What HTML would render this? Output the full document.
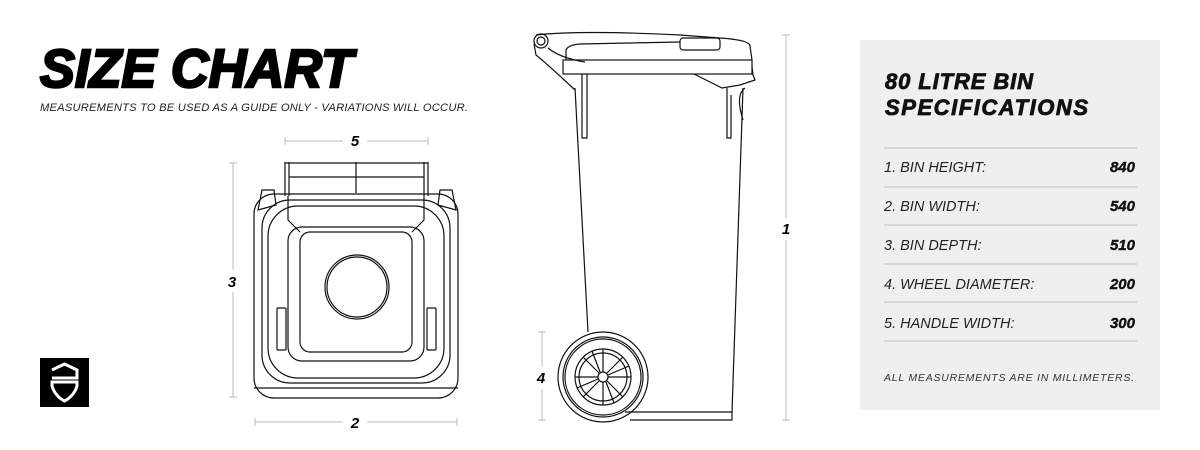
<!DOCTYPE html>
<html><head><meta charset="utf-8"><style>
html,body{margin:0;padding:0;background:#fff;}
svg{display:block;}
</style></head><body>
<svg width="1200" height="450" viewBox="0 0 1200 450" xmlns="http://www.w3.org/2000/svg" font-family="Liberation Sans, sans-serif">
<rect width="1200" height="450" fill="#fff"/>
<!-- Title -->
<text x="40" y="87" font-size="54" font-weight="900" font-style="italic" fill="#000" stroke="#000" stroke-width="2.5" textLength="313" lengthAdjust="spacingAndGlyphs">SIZE CHART</text>
<text x="40" y="111" font-size="11.2" font-style="italic" fill="#222" textLength="428">MEASUREMENTS TO BE USED AS A GUIDE ONLY - VARIATIONS WILL OCCUR.</text>
<!-- logo -->
<rect x="40" y="358" width="49" height="49" fill="#000"/>
<path d="M52 370 L64.5 364 L77 370 L77 378 L52 378 M52 382 L77 382 L77 386 Q74 396 64.5 401 Q55 396 52 386 Z" fill="none" stroke="#fff" stroke-width="3"/>

<g fill="none" stroke="#bbb" stroke-width="1">
<line x1="285" y1="141" x2="343" y2="141"/><line x1="367" y1="141" x2="428" y2="141"/>
<line x1="285" y1="137" x2="285" y2="145"/><line x1="428" y1="137" x2="428" y2="145"/>
<line x1="233" y1="163" x2="233" y2="270"/><line x1="233" y1="292" x2="233" y2="397"/>
<line x1="229" y1="163" x2="237" y2="163"/><line x1="229" y1="397" x2="237" y2="397"/>
<line x1="255" y1="422" x2="343" y2="422"/><line x1="367" y1="422" x2="457" y2="422"/>
<line x1="255" y1="418" x2="255" y2="426"/><line x1="457" y1="418" x2="457" y2="426"/>
<line x1="786" y1="35" x2="786" y2="218"/><line x1="786" y1="240" x2="786" y2="420"/>
<line x1="782" y1="35" x2="790" y2="35"/><line x1="782" y1="420" x2="790" y2="420"/>
<line x1="542" y1="332" x2="542" y2="367"/><line x1="542" y1="389" x2="542" y2="420"/>
<line x1="538" y1="332" x2="546" y2="332"/><line x1="538" y1="420" x2="546" y2="420"/>
</g>
<g font-size="15" font-weight="900" font-style="italic" fill="#000" text-anchor="middle">
<text x="355" y="146">5</text><text x="232" y="287">3</text><text x="355" y="428">2</text>
<text x="786" y="234">1</text><text x="541" y="383">4</text>
</g>

<!-- top view -->
<g fill="none" stroke="#111" stroke-width="1.2">
<path d="M262 190 L274 190 L276 205 L258 210 Z"/><path d="M438 205 L440 190 L452 190 L456 210 Z"/>
<path d="M285 162 L285 196 M289 162 L289 196 M428 162 L428 196 M424 162 L424 196 M285 163 L428 163 M289 177 L424 177 M356 162 L356 193"/>
<rect x="254" y="194" width="204" height="204" rx="20"/>
<path d="M254 388 L458 388"/>
<rect x="262" y="200" width="188" height="183" rx="28"/>
<rect x="268" y="206" width="176" height="172" rx="30"/>
<rect x="288" y="227" width="136" height="134" rx="14"/>
<rect x="300" y="232" width="112" height="120" rx="10"/>
<path d="M288 196 L288 220 L300 232 M424 196 L424 220 L412 232"/>
<rect x="277" y="308" width="9" height="42" rx="1"/><rect x="427" y="308" width="9" height="42" rx="1"/>
<circle cx="357" cy="287" r="32"/><circle cx="357" cy="287" r="30"/>
</g>

<!-- side view -->
<g fill="none" stroke="#111" stroke-width="1.2">
<circle cx="541" cy="41" r="7"/><circle cx="541" cy="41" r="4"/>
<path d="M536 35 Q580 30 680 35 L720 38 Q750 40 750 46 L752 60"/>
<rect x="680" y="38" width="40" height="12" rx="3"/>
<path d="M566 60 L566 50 Q568 45 580 44 L680 42"/>
<rect x="563" y="60" width="189" height="14"/>
<path d="M752 67 L753 75 L755 80 L740 85 L722 88 L694 74"/>
<path d="M534 44 L536 55 Q545 62 575 90 M548 48 Q560 58 585 62"/>
<path d="M575 88 L588 332 M582 74 L582 138 L587 138 L587 74"/>
<path d="M743 88 L732 412 M727 88 L727 138 L731 138 L731 95"/>
<path d="M745 88 Q735 95 743 120"/>
<path d="M625 412 L732 412 L732 420 L630 420"/>
<circle cx="603" cy="377" r="45"/><circle cx="603" cy="377" r="40"/><circle cx="603" cy="377" r="38"/>
<circle cx="603" cy="377" r="28"/><circle cx="603" cy="377" r="24"/><circle cx="603" cy="377" r="5"/>
<path d="M603 349 L603 372 M603 382 L603 405 M575 377 L598 377 M608 377 L631 377 M583 357 L599 373 M607 381 L623 397 M623 357 L607 373 M599 381 L583 397 M592 351 L600 372 M606 382 L614 403 M629 366 L608 375 M577 388 L598 379"/>
</g>

<!-- right panel -->
<rect x="860" y="40" width="300" height="370" fill="#efefef"/>
<g font-weight="900" font-style="italic" font-size="22" fill="#111" stroke="#111" stroke-width="0.8">
<text x="885" y="89" textLength="148">80 LITRE BIN</text>
<text x="885" y="115" textLength="203">SPECIFICATIONS</text>
</g>
<g stroke="#c8c8c8" stroke-width="1.2">
<line x1="884" y1="148" x2="1137" y2="148"/><line x1="884" y1="187" x2="1137" y2="187"/>
<line x1="884" y1="225" x2="1137" y2="225"/><line x1="884" y1="264" x2="1137" y2="264"/>
<line x1="884" y1="302" x2="1137" y2="302"/><line x1="884" y1="341" x2="1137" y2="341"/>
</g>
<g font-size="14.5" font-style="italic" fill="#222">
<text x="884" y="172">1. BIN HEIGHT:</text>
<text x="884" y="211">2. BIN WIDTH:</text>
<text x="884" y="250">3. BIN DEPTH:</text>
<text x="884" y="289">4. WHEEL DIAMETER:</text>
<text x="884" y="328">5. HANDLE WIDTH:</text>
</g>
<g font-size="15" font-style="italic" font-weight="900" fill="#111" stroke="#111" stroke-width="0.4" text-anchor="end">
<text x="1135" y="172">840</text><text x="1135" y="211">540</text><text x="1135" y="250">510</text>
<text x="1135" y="289">200</text><text x="1135" y="328">300</text>
</g>
<text x="884" y="381" font-size="10.5" font-style="italic" fill="#333" textLength="250">ALL MEASUREMENTS ARE IN MILLIMETERS.</text>
</svg>
</body></html>
